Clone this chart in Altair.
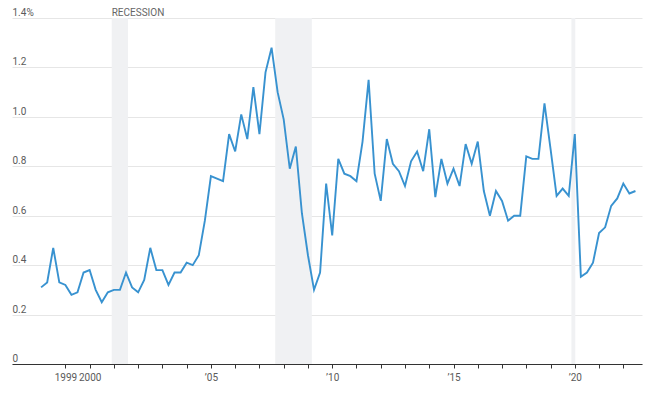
import altair as alt
import pandas as pd

# Quarterly values, 1998 Q1 .. 2022 Q3 (percent)
values = [
    0.31, 0.33, 0.47, 0.33,   # 1998
    0.32, 0.28, 0.29, 0.37,   # 1999
    0.38, 0.30, 0.25, 0.29,   # 2000
    0.30, 0.30, 0.37, 0.31,   # 2001
    0.29, 0.34, 0.47, 0.38,   # 2002
    0.38, 0.32, 0.37, 0.37,   # 2003
    0.41, 0.40, 0.44, 0.58,   # 2004
    0.76, 0.75, 0.74, 0.93,   # 2005
    0.86, 1.01, 0.91, 1.12,   # 2006
    0.93, 1.18, 1.28, 1.10,   # 2007
    0.99, 0.79, 0.88, 0.61,   # 2008
    0.44, 0.30, 0.37, 0.73,   # 2009
    0.52, 0.83, 0.77, 0.76,   # 2010
    0.74, 0.90, 1.15, 0.77,   # 2011
    0.66, 0.91, 0.81, 0.78,   # 2012
    0.72, 0.82, 0.86, 0.78,   # 2013
    0.95, 0.675, 0.83, 0.73,  # 2014
    0.79, 0.72, 0.89, 0.81,   # 2015
    0.90, 0.70, 0.60, 0.70,   # 2016
    0.66, 0.58, 0.60, 0.60,   # 2017
    0.84, 0.83, 0.83, 1.055,  # 2018
    0.87, 0.68, 0.71, 0.68,   # 2019
    0.93, 0.353, 0.37, 0.41,  # 2020
    0.53, 0.553, 0.64, 0.67,  # 2021
    0.73, 0.69, 0.70,         # 2022
]
first_year = 1998
quarter_step = 0.25

rec_start = [2000.91, 2007.65, 2019.86]
rec_end = [2001.58, 2009.16, 2020.02]

tick_years = list(range(1999, 2023))
y_ticks = [0, 0.2, 0.4, 0.6, 0.8, 1.0, 1.2, 1.4]

line_df = pd.DataFrame({
    "t": [first_year + i * quarter_step for i in range(len(values))],
    "v": values,
})
rec_df = pd.DataFrame({"start": rec_start, "end": rec_end})
label_df = pd.DataFrame({"start": [rec_start[0]], "label": ["RECESSION"]})

FONT = "Roboto"
x_scale = alt.Scale(domain=[1996.8, 2022.77], nice=False, zero=False)
y_scale = alt.Scale(domain=[0, 1.4], nice=False)

x_axis = alt.Axis(
    values=tick_years,
    labelExpr="datum.value == 1999 ? '1999' : datum.value == 2000 ? '2000' : "
              "datum.value % 5 == 0 ? '\u2019' + substring(toString(datum.value), 2, 4) : ''",
    grid=False, domain=True, domainColor="#333333", domainWidth=1,
    ticks=True, tickColor="#333333", tickSize=4, tickWidth=1,
    labelPadding=4, labelFontSize=10, labelColor="#5a5a5a", labelFont=FONT,
    labelFlush=False, labelOverlap=False, labelBound=False, title=None,
)
y_axis = alt.Axis(
    values=y_ticks,
    labelExpr="datum.value == 0 ? '\u2007\u20080' : datum.value == 1.4 ? "
              "format(datum.value, '.1f') + '%' : format(datum.value, '.1f')",
    grid=True, gridColor="#e6e6e6", gridWidth=1,
    domain=False, ticks=False, tickSize=0,
    labelAlign="left", labelBaseline="alphabetic", labelPadding=0, labelOffset=-2.5,
    labelFontSize=10, labelColor="#5a5a5a", labelFont=FONT,
    labelOverlap=False, title=None,
)

rects = alt.Chart(rec_df).mark_rect(color="#f0f1f3").encode(
    x=alt.X("start:Q", scale=x_scale, axis=x_axis),
    x2="end:Q",
)

line = alt.Chart(line_df).mark_line(color="#3892d0", strokeWidth=1.9).encode(
    x=alt.X("t:Q", scale=x_scale, axis=x_axis),
    y=alt.Y("v:Q", scale=y_scale, axis=y_axis),
)

label = alt.Chart(label_df).mark_text(
    align="left", baseline="alphabetic", font=FONT, fontSize=10, color="#666666"
).encode(
    x=alt.X("start:Q", scale=x_scale, axis=x_axis),
    y=alt.value(-2.5),
    text="label:N",
)

chart = alt.layer(rects, line, label).properties(
    width=630, height=346,
    autosize=alt.AutoSizeParams(type="none"),
    padding={"left": 4, "top": 10, "right": 20, "bottom": 30},
).configure_view(stroke=None).configure_axisX(labelOverlap=False)

chart.save("out.html", embed_options={"renderer": "svg", "actions": False})
